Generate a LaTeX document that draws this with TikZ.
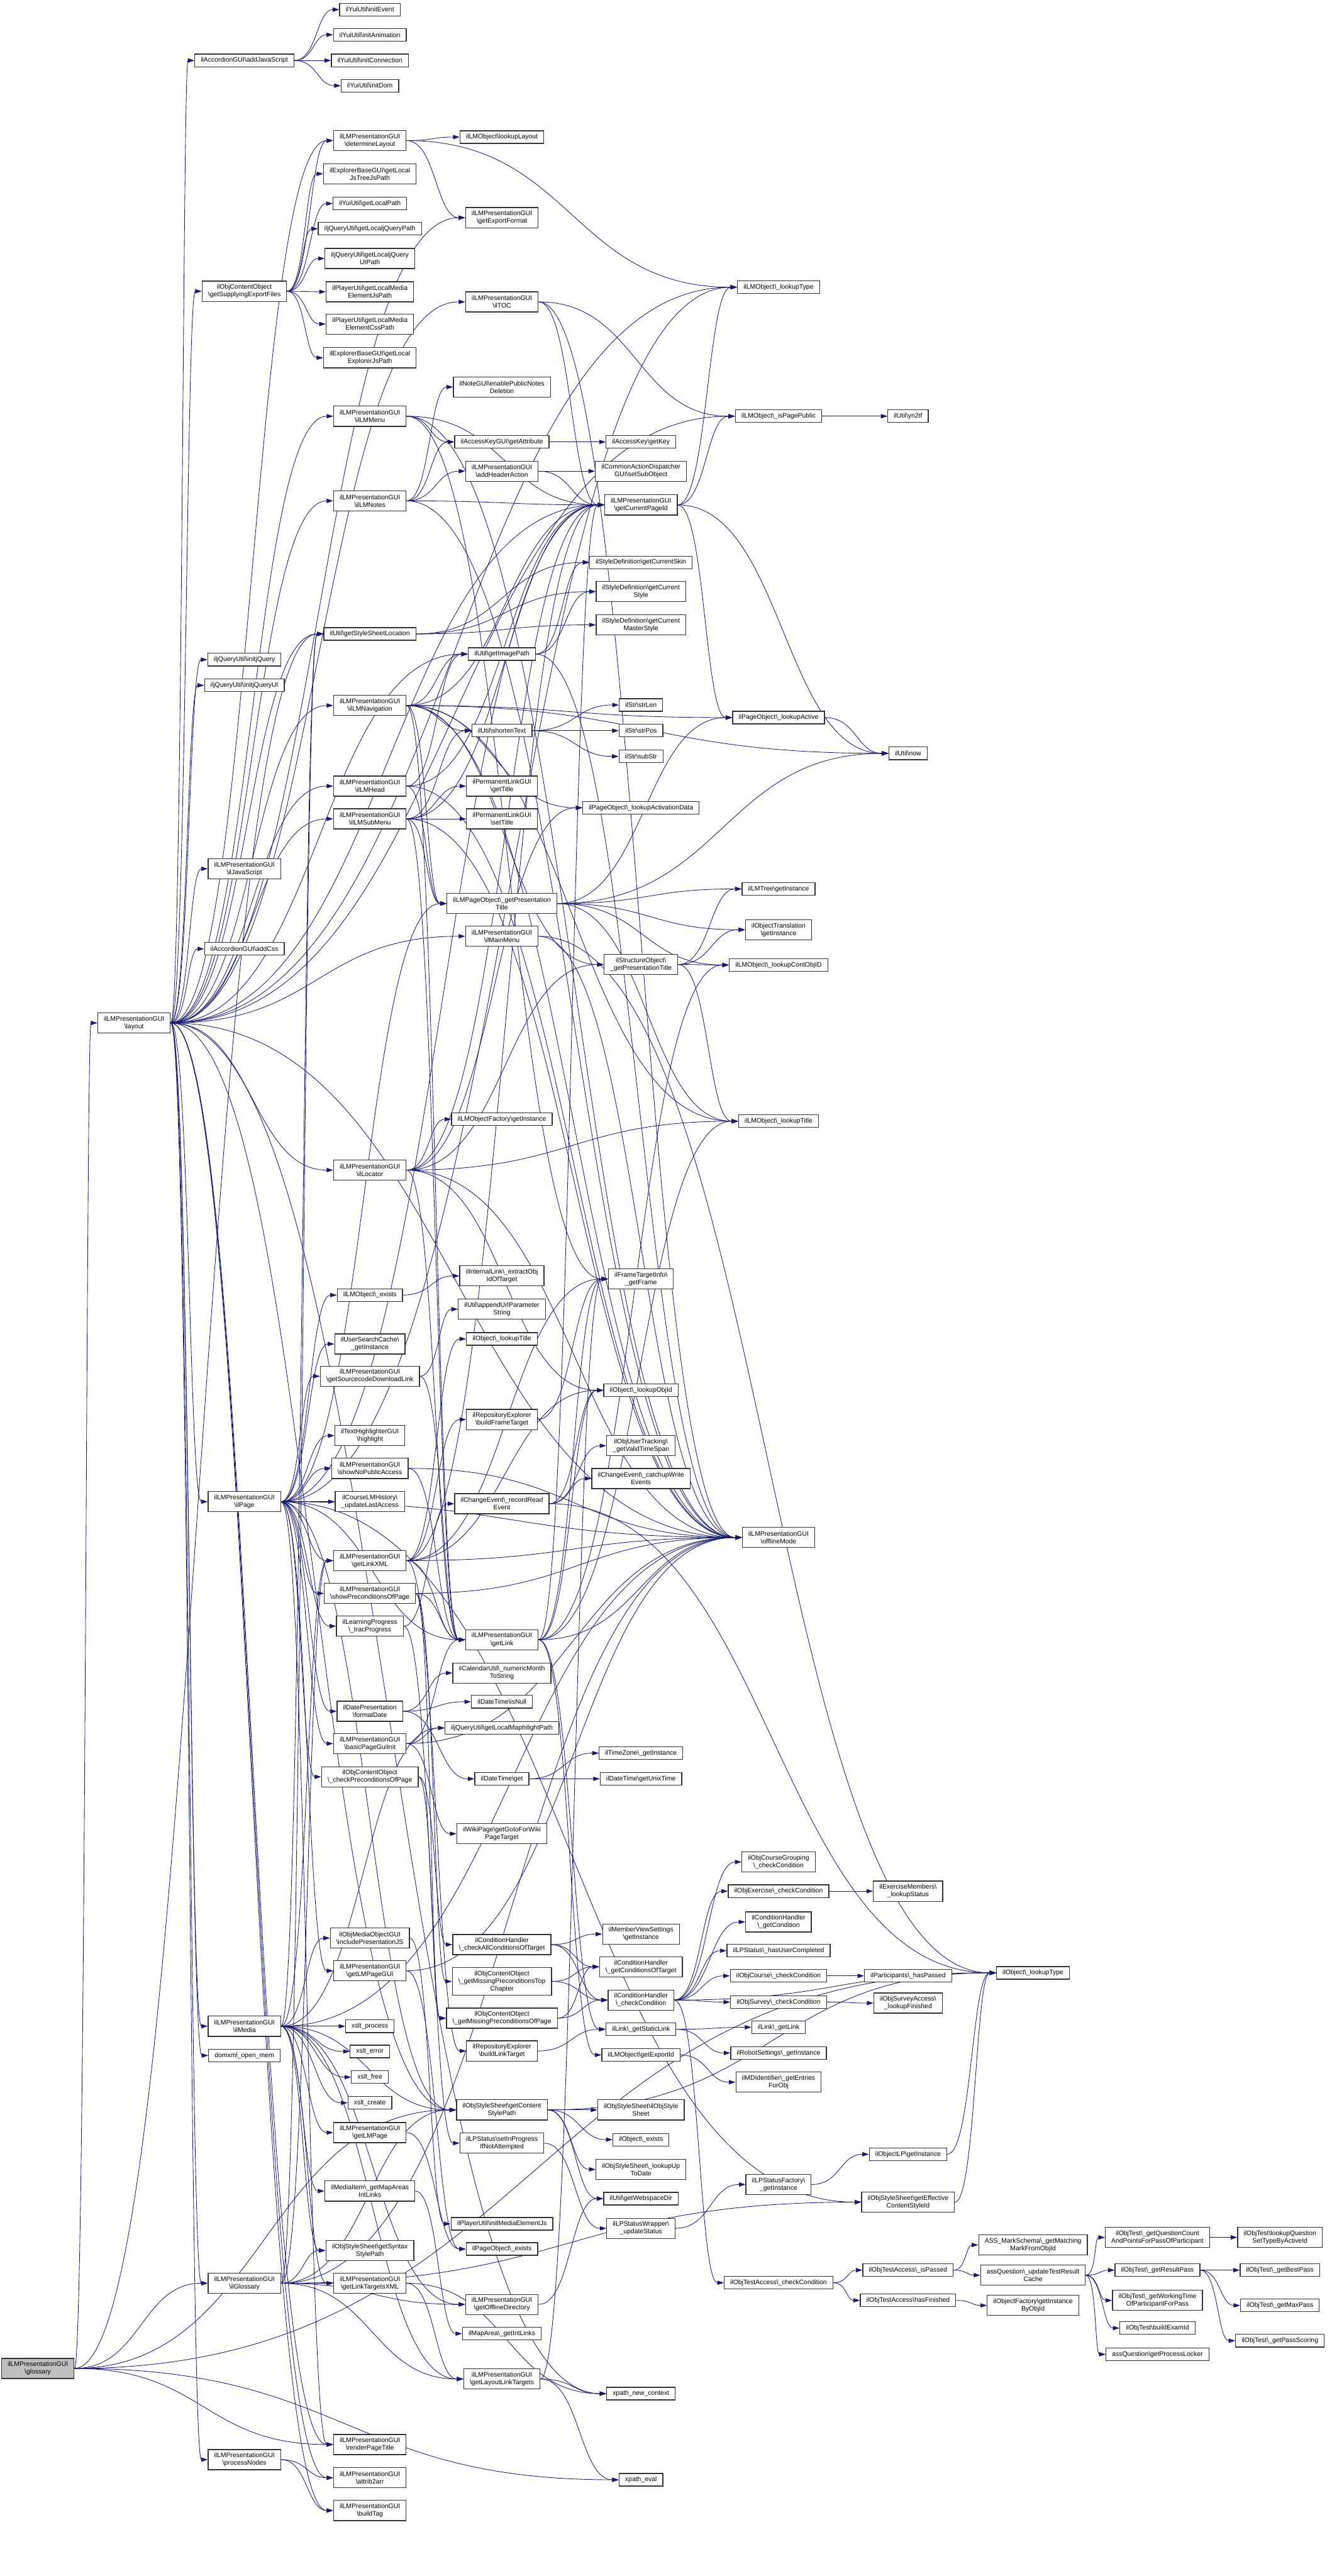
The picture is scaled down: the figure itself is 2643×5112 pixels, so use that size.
\documentclass[tikz,border=0pt]{standalone}
\usepackage{fontspec}
\setmainfont{Liberation Sans}
\usetikzlibrary{arrows.meta,calc}

\definecolor{callblue}{HTML}{191970}
\newcommand{\bsl}{\textbackslash}
\newcommand{\calls}[2]{%
  \foreach \dst in {#2}{%
    \draw[call] let \p1=(#1.east), \p2=(\dst.west), \n1={max(0.5*(\x2-\x1),6pt)} in
      (\p1) .. controls +(\n1,0pt) and +(-\n1,0pt) .. (\p2);}}
\pgfdeclarelayer{edges}
\pgfsetlayers{edges,main}

\tikzset{
  fn/.style={draw=black!80, line width=0.45pt, fill=white, align=center,
    inner xsep=3.4pt, inner ysep=0.4pt, minimum height=0.25cm,
    font=\fontsize{3.7}{4.27}\selectfont},
  two/.style={minimum height=0.4cm},
  three/.style={minimum height=0.55cm},
  root/.style={fill=black!25},
  call/.style={callblue, line width=0.3pt, -{Triangle[length=0.13cm,width=0.085cm]}}
}

\begin{document}
\begin{tikzpicture}[x=0.01cm, y=-0.01cm]
\useasboundingbox (0,0) rectangle (2643,5112);

\node[fn,two,root] (glos) at (75,4700) {ilLMPresentationGUI\\\bsl glossary};
\node[fn,two] (lay) at (266,2030) {ilLMPresentationGUI\\\bsl layout};

\node[fn] (addjs) at (485,120) {ilAccordionGUI\bsl addJavaScript};
\node[fn,two] (supp) at (485,578) {ilObjContentObject\\\bsl getSupplyingExportFiles};
\node[fn] (ijq) at (485,1309) {iljQueryUtil\bsl initjQuery};
\node[fn] (ijqui) at (485,1360) {iljQueryUtil\bsl initjQueryUI};
\node[fn,two] (iljs) at (485,1724) {ilLMPresentationGUI\\\bsl ilJavaScript};
\node[fn] (addcss) at (485,1883) {ilAccordionGUI\bsl addCss};
\node[fn,two] (ilpage) at (485,2980) {ilLMPresentationGUI\\\bsl ilPage};
\node[fn,two] (ilmedia) at (485,4021) {ilLMPresentationGUI\\\bsl ilMedia};
\node[fn] (domxml) at (485,4079) {domxml\_open\_mem};
\node[fn,two] (ilglo) at (485,4531) {ilLMPresentationGUI\\\bsl ilGlossary};
\node[fn,two] (procn) at (485,4881) {ilLMPresentationGUI\\\bsl processNodes};

\node[fn] (yev) at (734,19) {ilYuiUtil\bsl initEvent};
\node[fn] (yanim) at (734,69) {ilYuiUtil\bsl initAnimation};
\node[fn] (yconn) at (734,120) {ilYuiUtil\bsl initConnection};
\node[fn] (ydom) at (734,170) {ilYuiUtil\bsl initDom};
\node[fn,two] (detlay) at (734,279) {ilLMPresentationGUI\\\bsl determineLayout};
\node[fn,two] (jstree) at (734,345) {ilExplorerBaseGUI\bsl getLocal\\JsTreeJsPath};
\node[fn] (ylocal) at (734,404) {ilYuiUtil\bsl getLocalPath};
\node[fn] (jqpath) at (734,454) {iljQueryUtil\bsl getLocaljQueryPath};
\node[fn,two] (jquipath) at (734,513) {iljQueryUtil\bsl getLocaljQuery\\UIPath};
\node[fn,two] (mejs) at (734,579) {ilPlayerUtil\bsl getLocalMedia\\ElementJsPath};
\node[fn,two] (mecss) at (734,643) {ilPlayerUtil\bsl getLocalMedia\\ElementCssPath};
\node[fn,two] (explpath) at (734,710) {ilExplorerBaseGUI\bsl getLocal\\ExplorerJsPath};
\node[fn,two] (lmmenu) at (734,826) {ilLMPresentationGUI\\\bsl ilLMMenu};
\node[fn,two] (lmnotes) at (734,994) {ilLMPresentationGUI\\\bsl ilLMNotes};
\node[fn] (ssloc) at (734,1258) {ilUtil\bsl getStyleSheetLocation};
\node[fn,two] (lmnav) at (734,1400) {ilLMPresentationGUI\\\bsl ilLMNavigation};
\node[fn,two] (lmhead) at (734,1560) {ilLMPresentationGUI\\\bsl ilLMHead};
\node[fn,two] (lmsub) at (734,1625) {ilLMPresentationGUI\\\bsl ilLMSubMenu};
\node[fn,two] (locator) at (734,2322) {ilLMPresentationGUI\\\bsl ilLocator};
\node[fn] (lmexists) at (734,2570) {ilLMObject\bsl\_exists};
\node[fn,two] (usc) at (734,2667) {ilUserSearchCache\bsl\\\_getInstance};
\node[fn,two] (srcdl) at (734,2731) {ilLMPresentationGUI\\\bsl getSourcecodeDownloadLink};
\node[fn,two] (hilite) at (734,2849) {ilTextHighlighterGUI\\\bsl highlight};
\node[fn,two] (nopub) at (734,2914) {ilLMPresentationGUI\\\bsl showNoPublicAccess};
\node[fn,two] (clmh) at (734,2980) {ilCourseLMHistory\bsl\\\_updateLastAccess};
\node[fn,two] (linkxml) at (734,3097) {ilLMPresentationGUI\\\bsl getLinkXML};
\node[fn,two] (showprec) at (734,3162) {ilLMPresentationGUI\\\bsl showPreconditionsOfPage};
\node[fn,two] (trac) at (734,3227) {ilLearningProgress\\\bsl\_tracProgress};
\node[fn,two] (fdate) at (734,3396) {ilDatePresentation\\\bsl formatDate};
\node[fn,two] (bpgi) at (734,3460) {ilLMPresentationGUI\\\bsl basicPageGuiInit};
\node[fn,two] (chkprec) at (734,3526) {ilObjContentObject\\\bsl\_checkPreconditionsOfPage};
\node[fn,two] (mojs) at (734,3846) {ilObjMediaObjectGUI\\\bsl includePresentationJS};
\node[fn,two] (lmpgui) at (734,3911) {ilLMPresentationGUI\\\bsl getLMPageGUI};
\node[fn] (xproc) at (734,4021) {xslt\_process};
\node[fn] (xerr) at (734,4071) {xslt\_error};
\node[fn] (xfree) at (734,4122) {xslt\_free};
\node[fn] (xcreate) at (734,4173) {xslt\_create};
\node[fn,two] (getlmpage) at (734,4232) {ilLMPresentationGUI\\\bsl getLMPage};
\node[fn,two] (mapareas) at (734,4348) {ilMediaItem\bsl\_getMapAreas\\IntLinks};
\node[fn,two] (synstyle) at (734,4466) {ilObjStyleSheet\bsl getSyntax\\StylePath};
\node[fn,two] (ltxml) at (734,4531) {ilLMPresentationGUI\\\bsl getLinkTargetsXML};
\node[fn,two] (rpt) at (734,4851) {ilLMPresentationGUI\\\bsl renderPageTitle};
\node[fn,two] (a2a) at (734,4917) {ilLMPresentationGUI\\\bsl attrib2arr};
\node[fn,two] (btag) at (734,4982) {ilLMPresentationGUI\\\bsl buildTag};

\node[fn] (lklay) at (996,272) {ilLMObject\bsl lookupLayout};
\node[fn,two] (expfmt) at (996,432) {ilLMPresentationGUI\\\bsl getExportFormat};
\node[fn,two] (iltoc) at (996,599) {ilLMPresentationGUI\\\bsl ilTOC};
\node[fn,two] (notes) at (996,768) {ilNoteGUI\bsl enablePublicNotes\\Deletion};
\node[fn] (akattr) at (996,877) {ilAccessKeyGUI\bsl getAttribute};
\node[fn,two] (hdract) at (996,935) {ilLMPresentationGUI\\\bsl addHeaderAction};
\node[fn] (imgpath) at (996,1298) {ilUtil\bsl getImagePath};
\node[fn] (shorten) at (996,1450) {ilUtil\bsl shortenText};
\node[fn,two] (plget) at (996,1560) {ilPermanentLinkGUI\\\bsl getTitle};
\node[fn,two] (plset) at (996,1625) {ilPermanentLinkGUI\\\bsl setTitle};
\node[fn,two] (lmpo) at (996,1793) {ilLMPageObject\bsl\_getPresentation\\Title};
\node[fn,two] (mainmenu) at (996,1858) {ilLMPresentationGUI\\\bsl ilMainMenu};
\node[fn] (lmofac) at (996,2221) {ilLMObjectFactory\bsl getInstance};
\node[fn,two] (intlink) at (996,2532) {ilInternalLink\bsl\_extractObj\\IdOfTarget};
\node[fn,two] (appurl) at (996,2598) {ilUtil\bsl appendUrlParameter\\String};
\node[fn] (objtitle) at (996,2657) {ilObject\bsl\_lookupTitle};
\node[fn,two] (bft) at (996,2817) {ilRepositoryExplorer\\\bsl buildFrameTarget};
\node[fn,two] (rre) at (996,2984) {ilChangeEvent\bsl\_recordRead\\Event};
\node[fn,two] (getlink) at (996,3254) {ilLMPresentationGUI\\\bsl getLink};
\node[fn,two] (nmts) at (996,3320) {ilCalendarUtil\bsl\_numericMonth\\ToString};
\node[fn] (isnull) at (996,3377) {ilDateTime\bsl isNull};
\node[fn] (maphl) at (996,3429) {iljQueryUtil\bsl getLocalMaphilightPath};
\node[fn] (dtget) at (996,3530) {ilDateTime\bsl get};
\node[fn,two] (wiki) at (996,3639) {ilWikiPage\bsl getGotoForWiki\\PageTarget};
\node[fn,two] (chkall) at (996,3859) {ilConditionHandler\\\bsl\_checkAllConditionsOfTarget};
\node[fn,three] (misstop) at (996,3932) {ilObjContentObject\\\bsl\_getMissingPreconditionsTop\\Chapter};
\node[fn,two] (misspage) at (996,4005) {ilObjContentObject\\\bsl\_getMissingPreconditionsOfPage};
\node[fn,two] (blt) at (996,4070) {ilRepositoryExplorer\\\bsl buildLinkTarget};
\node[fn,two] (csp) at (996,4187) {ilObjStyleSheet\bsl getContent\\StylePath};
\node[fn,two] (sip) at (996,4253) {ilLPStatus\bsl setInProgress\\IfNotAttempted};
\node[fn] (initme) at (996,4413) {ilPlayerUtil\bsl initMediaElementJs};
\node[fn] (poexists) at (996,4463) {ilPageObject\bsl\_exists};
\node[fn,two] (offdir) at (996,4573) {ilLMPresentationGUI\\\bsl getOfflineDirectory};
\node[fn] (mapint) at (996,4631) {ilMapArea\bsl\_getIntLinks};
\node[fn,two] (llt) at (996,4721) {ilLMPresentationGUI\\\bsl getLayoutLinkTargets};

\node[fn] (akkey) at (1272,877) {ilAccessKey\bsl getKey};
\node[fn,two] (subobj) at (1272,935) {ilCommonActionDispatcher\\GUI\bsl setSubObject};
\node[fn,two] (curpid) at (1272,1002) {ilLMPresentationGUI\\\bsl getCurrentPageId};
\node[fn] (skin) at (1272,1116) {ilStyleDefinition\bsl getCurrentSkin};
\node[fn,two] (style) at (1272,1174) {ilStyleDefinition\bsl getCurrent\\Style};
\node[fn,two] (mstyle) at (1272,1240) {ilStyleDefinition\bsl getCurrent\\MasterStyle};
\node[fn] (strlen) at (1272,1399) {ilStr\bsl strLen};
\node[fn] (strpos) at (1272,1450) {ilStr\bsl strPos};
\node[fn] (substr) at (1272,1501) {ilStr\bsl subStr};
\node[fn] (actdata) at (1272,1603) {ilPageObject\bsl\_lookupActivationData};
\node[fn,two] (sotitle) at (1272,1914) {ilStructureObject\bsl\\\_getPresentationTitle};
\node[fn,two] (frame) at (1272,2538) {ilFrameTargetInfo\bsl\\\_getFrame};
\node[fn] (objid) at (1272,2759) {ilObject\bsl\_lookupObjId};
\node[fn,two] (vts) at (1272,2869) {ilObjUserTracking\bsl\\\_getValidTimeSpan};
\node[fn,two] (catchup) at (1272,2934) {ilChangeEvent\bsl\_catchupWrite\\Events};
\node[fn] (tz) at (1272,3479) {ilTimeZone\bsl\_getInstance};
\node[fn] (unix) at (1272,3530) {ilDateTime\bsl getUnixTime};
\node[fn,two] (mvs) at (1272,3838) {ilMemberViewSettings\\\bsl getInstance};
\node[fn,two] (condtgt) at (1272,3903) {ilConditionHandler\\\bsl\_getConditionsOfTarget};
\node[fn,two] (chkcond) at (1272,3969) {ilConditionHandler\\\bsl\_checkCondition};
\node[fn] (statlink) at (1272,4027) {ilLink\bsl\_getStaticLink};
\node[fn] (expid) at (1272,4078) {ilLMObject\bsl getExportId};
\node[fn,two] (ossctor) at (1272,4187) {ilObjStyleSheet\bsl ilObjStyle\\Sheet};
\node[fn] (oexists) at (1272,4246) {ilObject\bsl\_exists};
\node[fn,two] (uptodate) at (1272,4305) {ilObjStyleSheet\bsl\_lookupUp\\ToDate};
\node[fn] (webdir) at (1272,4363) {ilUtil\bsl getWebspaceDir};
\node[fn,two] (lpsw) at (1272,4422) {ilLPStatusWrapper\bsl\\\_updateStatus};
\node[fn] (xnc) at (1272,4750) {xpath\_new\_context};
\node[fn] (xeval) at (1272,4921) {xpath\_eval};

\node[fn] (lmtype) at (1545,570) {ilLMObject\bsl\_lookupType};
\node[fn] (pagepub) at (1545,826) {ilLMObject\bsl\_isPagePublic};
\node[fn] (lkactive) at (1545,1424) {ilPageObject\bsl\_lookupActive};
\node[fn] (lmtree) at (1545,1764) {ilLMTree\bsl getInstance};
\node[fn,two] (objtrans) at (1545,1845) {ilObjectTranslation\\\bsl getInstance};
\node[fn] (contobj) at (1545,1915) {ilLMObject\bsl\_lookupContObjID};
\node[fn] (lmtitle) at (1545,2225) {ilLMObject\bsl\_lookupTitle};
\node[fn,two] (offline) at (1545,3051) {ilLMPresentationGUI\\\bsl offlineMode};
\node[fn,two] (cgrp) at (1545,3695) {ilObjCourseGrouping\\\bsl\_checkCondition};
\node[fn] (exer) at (1545,3753) {ilObjExercise\bsl\_checkCondition};
\node[fn,two] (getcond) at (1545,3814) {ilConditionHandler\\\bsl\_getCondition};
\node[fn] (usercompl) at (1545,3871) {ilLPStatus\bsl\_hasUserCompleted};
\node[fn] (course) at (1545,3921) {ilObjCourse\bsl\_checkCondition};
\node[fn] (survey) at (1545,3973) {ilObjSurvey\bsl\_checkCondition};
\node[fn] (getlinklk) at (1545,4023) {ilLink\bsl\_getLink};
\node[fn] (robot) at (1545,4074) {ilRobotSettings\bsl\_getInstance};
\node[fn,two] (mdid) at (1545,4132) {ilMDIdentifier\bsl\_getEntries\\ForObj};
\node[fn,two] (lpsf) at (1545,4335) {ilLPStatusFactory\bsl\\\_getInstance};
\node[fn] (testacc) at (1545,4530) {ilObjTestAccess\bsl\_checkCondition};

\node[fn] (yn2tf) at (1802,826) {ilUtil\bsl yn2tf};
\node[fn] (now) at (1802,1495) {ilUtil\bsl now};
\node[fn,two] (exmem) at (1802,3753) {ilExerciseMembers\bsl\\\_lookupStatus};
\node[fn] (parthas) at (1802,3921) {ilParticipants\bsl\_hasPassed};
\node[fn,two] (survfin) at (1802,3975) {ilObjSurveyAccess\bsl\\\_lookupFinished};
\node[fn] (objlp) at (1802,4275) {ilObjectLP\bsl getInstance};
\node[fn,two] (effcs) at (1802,4370) {ilObjStyleSheet\bsl getEffective\\ContentStyleId};
\node[fn] (ispassed) at (1802,4505) {ilObjTestAccess\bsl\_isPassed};
\node[fn] (hasfin) at (1802,4565) {ilObjTestAccess\bsl hasFinished};

\node[fn] (otype) at (2050,3915) {ilObject\bsl\_lookupType};
\node[fn,two] (mark) at (2050,4455) {ASS\_MarkSchema\bsl\_getMatching\\MarkFromObjId};
\node[fn,two] (updcache) at (2050,4515) {assQuestion\bsl\_updateTestResult\\Cache};
\node[fn,two] (getinst) at (2050,4575) {ilObjectFactory\bsl getInstance\\ByObjId};

\node[fn,two] (qcount) at (2297,4440) {ilObjTest\bsl\_getQuestionCount\\AndPointsForPassOfParticipant};
\node[fn] (respass) at (2297,4505) {ilObjTest\bsl\_getResultPass};
\node[fn,two] (worktime) at (2297,4565) {ilObjTest\bsl\_getWorkingTime\\OfParticipantForPass};
\node[fn] (examid) at (2297,4620) {ilObjTest\bsl buildExamId};
\node[fn] (proclock) at (2297,4672) {assQuestion\bsl getProcessLocker};

\node[fn,two] (qset) at (2540,4440) {ilObjTest\bsl lookupQuestion\\SetTypeByActiveId};
\node[fn] (bestpass) at (2540,4505) {ilObjTest\bsl\_getBestPass};
\node[fn] (maxpass) at (2540,4575) {ilObjTest\bsl\_getMaxPass};
\node[fn] (passscore) at (2540,4645) {ilObjTest\bsl\_getPassScoring};

\begin{pgfonlayer}{edges}
\calls{glos}{lay,ilglo,rpt,ssloc,otype,csp,xeval}
\calls{lay}{addjs,supp,ijq,ijqui,iljs,addcss,ilpage,ilmedia,domxml,ilglo,procn,detlay,lmmenu,lmnotes,ssloc,lmnav,lmhead,lmsub,locator,iltoc,mainmenu,imgpath,expfmt,rpt,a2a,btag,csp,xnc,offline,curpid,lmtype,pagepub}
\calls{addjs}{yev,yanim,yconn,ydom}
\calls{supp}{detlay,jstree,ylocal,jqpath,jquipath,mejs,mecss,explpath}
\calls{ilpage}{lmexists,usc,srcdl,hilite,nopub,clmh,linkxml,showprec,trac,fdate,bpgi,chkprec,lmpgui,rpt,getlink,lmpo,curpid,offline,csp,effcs,lmtype}
\calls{ilmedia}{mojs,xproc,xerr,xfree,xcreate,getlmpage,mapareas,synstyle,ltxml,linkxml,ssloc,csp,offdir,llt,offline,maphl}
\calls{ilglo}{synstyle,ltxml,linkxml,ssloc,csp,offdir,llt,offline,effcs}
\calls{procn}{a2a,btag}
\calls{detlay}{lklay,expfmt,lmtype}
\calls{iltoc}{curpid,pagepub,offline}
\calls{lmmenu}{curpid,offline,frame,akattr}
\calls{lmnotes}{notes,akattr,hdract,curpid,offline}
\calls{hdract}{subobj,curpid}
\calls{akattr}{akkey}
\calls{ssloc}{skin,style,mstyle}
\calls{imgpath}{skin,style,offline}
\calls{lmnav}{imgpath,shorten,lmpo,getlink,curpid,actdata,sotitle,lkactive,lmtitle,offline,now}
\calls{lmhead}{imgpath,lmpo,offline,curpid}
\calls{lmsub}{plget,plset,shorten,lmpo,getlink,curpid,offline}
\calls{locator}{lmofac,curpid,sotitle,lmtitle,objid,actdata,offline,getlink}
\calls{shorten}{strlen,strpos,substr}
\calls{lmpo}{lmtree,objtrans,contobj,lmtitle,lkactive,now}
\calls{sotitle}{lmtree,objtrans,contobj,lmtitle}
\calls{curpid}{lmtype,pagepub,lkactive,now}
\calls{pagepub}{yn2tf}
\calls{lkactive}{now}
\calls{lmexists}{intlink}
\calls{srcdl}{appurl,getlink}
\calls{linkxml}{objtitle,bft,getlink,frame,objid,blt,offline,curpid}
\calls{nopub}{getlink,offline}
\calls{trac}{rre,sip}
\calls{showprec}{getlink,misstop,misspage,offline}
\calls{bpgi}{getlink,maphl,wiki,offline}
\calls{fdate}{nmts,isnull,dtget}
\calls{chkprec}{chkall,misspage}
\calls{mojs}{initme}
\calls{lmpgui}{poexists,offline}
\calls{getlmpage}{poexists}
\calls{mapareas}{mapint}
\calls{ltxml}{llt,xnc}
\calls{rre}{vts,catchup,objid,otype}
\calls{getlink}{frame,objid,statlink,expid,contobj,lmtitle,offline,curpid}
\calls{bft}{frame}
\calls{dtget}{tz,unix}
\calls{chkall}{mvs,condtgt,chkcond}
\calls{misstop}{condtgt,chkcond}
\calls{misspage}{condtgt,chkcond}
\calls{blt}{statlink}
\calls{csp}{ossctor,oexists,uptodate,webdir,otype}
\calls{sip}{lpsw}
\calls{offdir}{webdir}
\calls{mainmenu}{otype,offline}
\calls{llt}{xnc,xeval,frame}
\calls{chkcond}{cgrp,exer,getcond,usercompl,course,survey,testacc,otype}
\calls{statlink}{getlinklk,robot}
\calls{expid}{mdid}
\calls{lpsw}{lpsf}
\calls{exer}{exmem}
\calls{course}{parthas}
\calls{survey}{survfin}
\calls{lpsf}{objlp}
\calls{testacc}{ispassed,hasfin}
\calls{objlp}{otype}
\calls{effcs}{otype}
\calls{ispassed}{mark,updcache}
\calls{hasfin}{getinst}
\calls{updcache}{qcount,respass,worktime,examid,proclock}
\calls{qcount}{qset}
\calls{respass}{bestpass,maxpass,passscore}
\end{pgfonlayer}
\end{tikzpicture}
\end{document}
